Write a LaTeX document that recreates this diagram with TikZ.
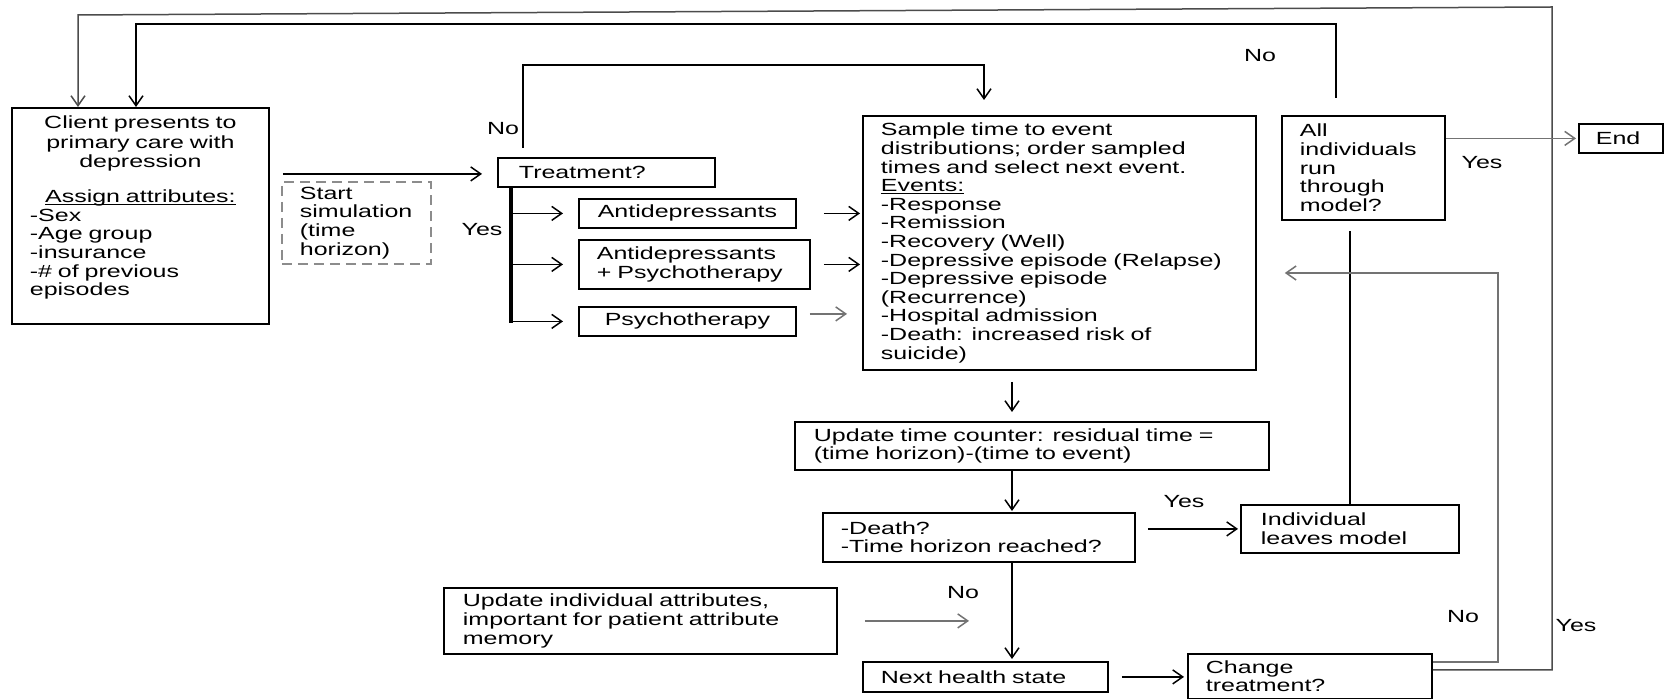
\documentclass[tikz,border=0pt]{standalone}
\usepackage{fontspec}
\setmainfont{Liberation Sans}[FakeStretch=1.42]
\usetikzlibrary{arrows.meta,calc}
\newcommand\fs{\fontsize{8.8pt}{9.3pt}\selectfont}
\newcommand\myul[1]{\leavevmode{\setbox0\hbox{#1}\rlap{\rule[-1.3pt]{\wd0}{0.55pt}}\box0}}
\begin{document}
\begin{tikzpicture}[x=0.5pt,y=-0.5pt,
  >={Straight Barb[length=5pt,width=7pt]},
  box/.style n args={4}{draw, line width=0.9pt, rectangle, anchor=north west,
    inner ysep=1pt, font=\fs, align=left,
    minimum width=#1, minimum height=#2, inner xsep=#3, text width=#4},
  cbox/.style n args={4}{box={#1}{#2}{#3}{#4}, align=center},
  line/.style={line width=0.75pt},
  arr/.style={line, ->},
  garr/.style={line, ->, draw=black!55},
  lbl/.style={font=\fs, inner sep=0pt}]
\fill[white] (0,0) rectangle (1668,699);
\useasboundingbox (0,0) rectangle (1668,699);

% ---------- boxes ----------
\node[box={128.5pt}{108pt}{9pt}{110.5pt}] (client) at (11,107) {};
\node[anchor=north, inner sep=0pt, text width=110.5pt, align=left, font=\fs] (clienttxt)
  at ([yshift=-4.3pt]client.north) {%
  \makebox[110.5pt]{Client presents to}\\[0.4pt]
  \makebox[110.5pt]{primary care with}\\[0.4pt]
  \makebox[110.5pt]{depression}\\[8.3pt]
  \makebox[110.5pt]{\myul{Assign attributes:}}\\
  -Sex\\ -Age group\\ -insurance\\ -\# of previous\\ episodes};

\node[box={74.5pt}{41pt}{9pt}{56.5pt}, draw=black!45, dashed, dash pattern=on 5pt off 3pt] (start) at (281,181)
  {Start\\ simulation\\ (time\\ horizon)};

\node[box={108.5pt}{14.5pt}{10.5pt}{87.5pt}] (treat) at (497,157) {Treatment?};
\node[cbox={108.5pt}{14.5pt}{9pt}{90.5pt}] (antid) at (578,198) {Antidepressants};
\node[box={115.5pt}{24.5pt}{9pt}{97.5pt}] (antipsy) at (578,239) {Antidepressants\\ +~Psychotherapy};
\node[cbox={108.5pt}{14.5pt}{9pt}{90.5pt}] (psy) at (578,306) {Psychotherapy};

\node[box={196.5pt}{127pt}{9pt}{178.5pt}] (sample) at (862,115)
  {Sample time to event\\ distributions; order sampled\\ times and select next event.\\
   \myul{Events:}\\ -Response\\ -Remission\\ -Recovery (Well)\\ -Depressive episode (Relapse)\\
   -Depressive episode\\ (Recurrence)\\ -Hospital admission\\ -Death: increased risk of\\ suicide)};

\node[box={81.5pt}{52pt}{9pt}{63.5pt}] (allind) at (1281,115)
  {All\\ individuals\\ run\\ through\\ model?};
\node[box={42pt}{14.5pt}{8.5pt}{25pt}] (endb) at (1578,123) {End};

\node[box={237pt}{24pt}{9.5pt}{218pt}] (updt) at (794,421)
  {Update time counter: residual time =\\ (time horizon)-(time to event)};
\node[box={156pt}{24.5pt}{9pt}{138pt}] (death) at (822,512)
  {-Death?\\ -Time horizon reached?};
\node[box={109pt}{24pt}{10pt}{89pt}] (leaves) at (1240,504)
  {Individual\\ leaves model};
\node[box={196.5pt}{33pt}{9.5pt}{177.5pt}] (updind) at (443,587)
  {Update individual attributes,\\ important for patient attribute\\ memory};
\node[box={122.5pt}{15pt}{9pt}{104.5pt}] (nexth) at (862,661) {Next health state};
\node[box={122pt}{22.5pt}{9pt}{104pt}] (chg) at (1187,653) {Change\\ treatment?};

% ---------- labels ----------
\node[lbl] (noTreat) at (503,129) {No};
\node[lbl] (yesTreat) at (482,230) {Yes};
\node[lbl] (noAll) at (1260,56) {No};
\node[lbl] (yesAll) at (1482,163) {Yes};
\node[lbl] (yesDeath) at (1184,502) {Yes};
\node[lbl] (noDeath) at (963,593) {No};
\node[lbl] (noChg) at (1463,617) {No};
\node[lbl] (yesChg) at (1576,626) {Yes};

% ---------- helper coordinates ----------
\coordinate (spine) at (1012,0);
\coordinate (oR) at (1552,7);
\coordinate (oL) at (78,15);
\coordinate (iR) at (1336,24);
\coordinate (iL) at (136,24);
\coordinate (nt) at (523,65);
\coordinate (ns) at (984,65);
\coordinate (trunk) at (511,188);
\coordinate (fb) at (1498,273);
\coordinate (sa) at ([yshift=21pt]client.east);
\coordinate (psyo) at ([yshift=3.75pt]psy.east);

% ---------- connectors ----------
% outer loop: change treatment? yes -> client
\draw[arr, draw=black!70] ([yshift=3.25pt]chg.east) -| (oR) -- (oL) -- (oL |- client.north);
% all individuals? no -> client
\draw[arr, shorten <=8.5pt] (iR |- allind.north) -- (iR) -- (iL) -- (iL |- client.north);
% start
\draw[arr, shorten <=6.5pt, shorten >=7.5pt] (sa) -- (sa -| treat.west);
% treatment? no
\draw[arr, shorten <=4.5pt, shorten >=7.5pt] (nt |- treat.north) -- (nt) -- (ns) -- (ns |- sample.north);
% treatment? yes trunk
\draw[line width=2pt] (trunk) -- ([yshift=-0.8pt]trunk |- psy.west);
\draw[arr, shorten >=7.5pt] (trunk |- antid.west) -- (antid.west);
\draw[arr, shorten >=7.5pt] (trunk |- antipsy.west) -- (antipsy.west);
\draw[arr, shorten >=7.5pt] (trunk |- psy.west) -- (psy.west);
% treatments -> sample
\draw[arr, shorten <=13.5pt, shorten >=1pt] (antid.east) -- (antid.east -| sample.west);
\draw[arr, shorten <=6.5pt, shorten >=1pt] (antipsy.east) -- (antipsy.east -| sample.west);
\draw[garr, shorten <=6.5pt, shorten >=7.5pt] (psyo) -- (psyo -| sample.west);
% main spine
\draw[arr, shorten <=5.5pt, shorten >=4.5pt] (spine |- sample.south) -- (spine |- updt.north);
\draw[arr, shorten >=0.5pt] (spine |- updt.south) -- (spine |- death.north);
\draw[arr, shorten >=1pt] (spine |- death.south) -- (spine |- nexth.north);
% death yes -> leaves
\draw[arr, shorten <=6pt, shorten >=1pt] (leaves.west -| death.east) -- (leaves.west);
% update individual -> spine
\draw[garr, shorten <=13.5pt, shorten >=21.5pt] (updind.east) -- (updind.east -| spine);
% next health -> change
\draw[arr, shorten <=6.5pt, shorten >=1.5pt] (nexth.east) -- (nexth.east -| chg.west);
% leaves -- all individuals
\draw[line, shorten >=5pt] (leaves.north) -- (leaves.north |- allind.south);
% all individuals yes -> end
\draw[garr, shorten >=1pt] (endb.west -| allind.east) -- (endb.west);
% change treatment no -> sample
\draw[garr, shorten >=14pt] ([yshift=7.25pt]chg.east) -| (fb) -- (fb -| sample.east);
\end{tikzpicture}
\end{document}
